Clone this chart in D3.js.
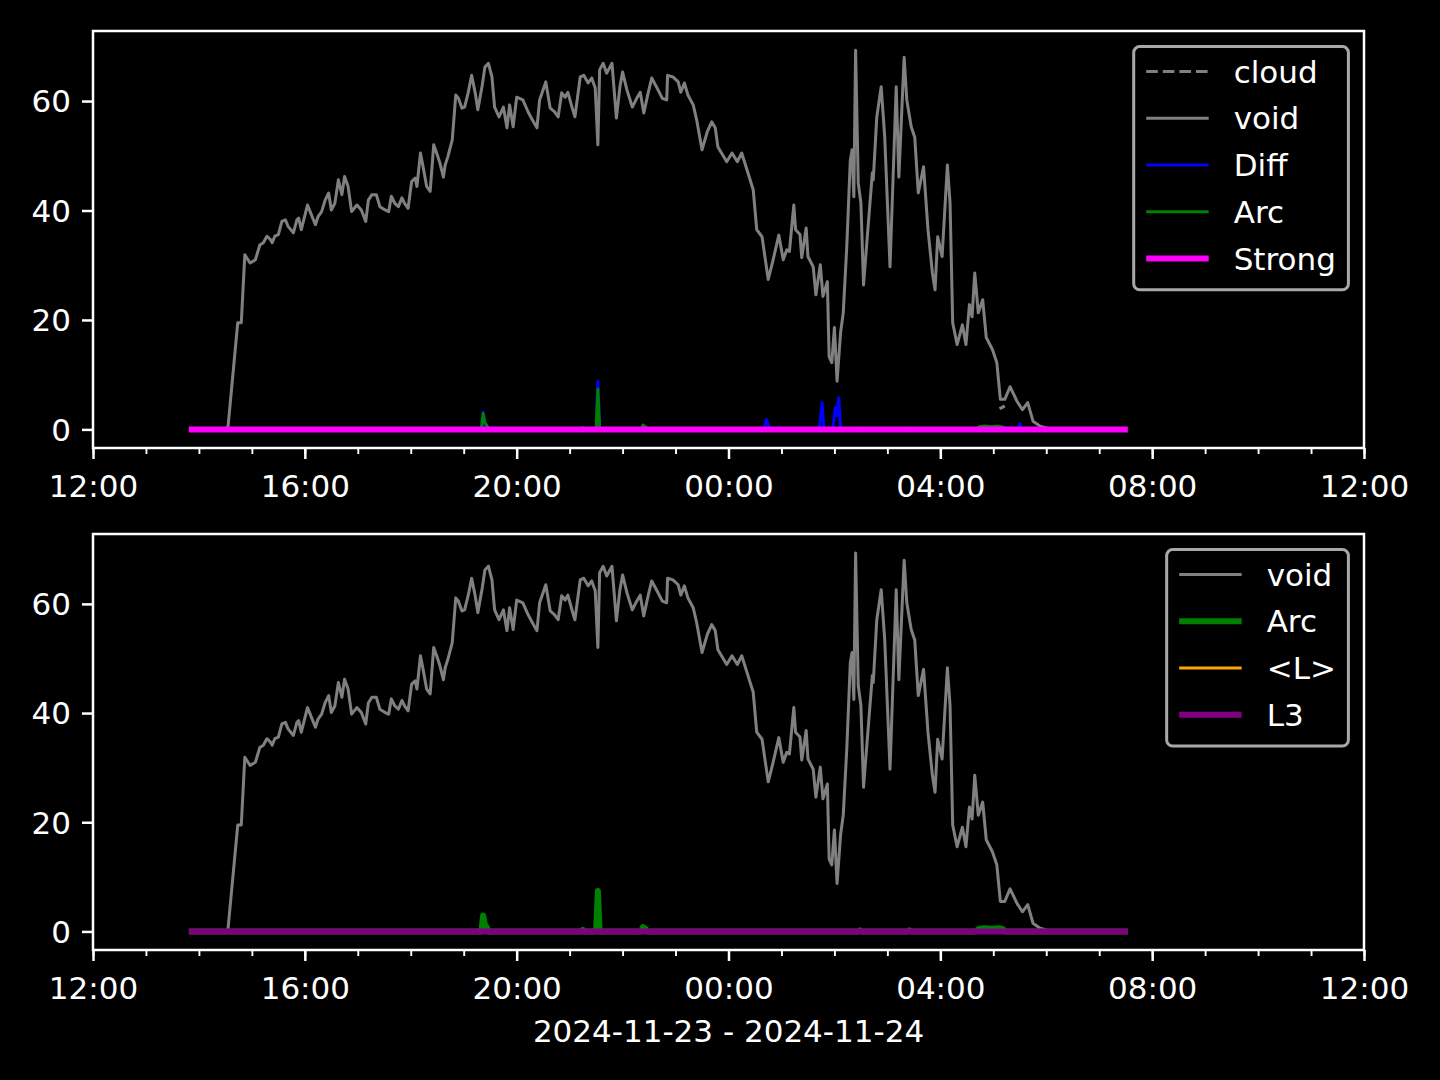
<!DOCTYPE html>
<html><head><meta charset="utf-8">
<script src="https://cdn.jsdelivr.net/npm/d3@7"></script>
<style>
html,body{margin:0;padding:0;background:#000;}
svg{display:block;}
text{font-family:"DejaVu Sans",sans-serif;}
</style></head><body>
<svg id="chart" width="1440" height="1080"></svg>
<script>
// ---------------- DATA ----------------
// [time, value]; times >= 12:00 are on 2024-11-23, earlier ones on 2024-11-24
const voidSeries = [
["13:52",0],["14:30",0],["14:33",0.5],["14:44",19.5],["14:48",19.5],["14:52",31.9],["14:58",30.4],["15:04",31.0],
["15:09",33.7],["15:13",34.1],["15:17",35.3],["15:21",34.7],["15:23",34.1],["15:26",35.3],["15:30",35.6],["15:34",38.0],
["15:38",38.3],["15:41",37.1],["15:47",35.9],["15:51",38.3],["15:53",38.6],["15:56",36.5],["16:03",41.0],["16:06",39.8],
["16:12",37.4],["16:15",38.9],["16:19",39.8],["16:23",41.9],["16:27",43.2],["16:30",40.1],["16:34",41.3],["16:38",45.6],
["16:42",42.9],["16:45",46.2],["16:49",44.4],["16:53",39.8],["16:59",41.0],["17:04",40.1],["17:09",38.0],["17:12",41.9],
["17:16",42.9],["17:21",42.9],["17:25",40.7],["17:31",40.1],["17:35",39.8],["17:38",42.6],["17:42",41.3],["17:46",40.7],
["17:50",42.3],["17:53",41.3],["17:57",40.4],["18:01",45.3],["18:05",45.9],["18:07",44.4],["18:11",50.5],["18:14",48.0],
["18:18",44.4],["18:22",43.5],["18:26",52.0],["18:30",50.2],["18:33",48.7],["18:37",46.1],["18:39",48.3],["18:42",49.8],
["18:47",52.9],["18:51",61.1],["18:54",60.5],["18:58",58.7],["19:01",58.9],["19:05",61.5],["19:09",64.7],["19:13",61.5],
["19:16",58.4],["19:21",62.9],["19:24",66.2],["19:28",66.9],["19:32",64.4],["19:35",58.9],["19:40",57.1],["19:45",58.9],
["19:49",55.1],["19:52",59.3],["19:56",55.3],["20:00",60.7],["20:07",60.2],["20:13",58.0],["20:18",56.5],["20:23",55.1],
["20:26",60.2],["20:33",63.5],["20:38",58.7],["20:43",58.0],["20:47",57.1],["20:51",61.5],["20:55",60.7],["20:58",61.6],
["21:03",58.7],["21:06",57.1],["21:12",64.4],["21:16",64.7],["21:21",63.3],["21:25",64.2],["21:29",62.4],["21:32",52.0],
["21:34",65.7],["21:38",66.9],["21:42",65.1],["21:48",66.9],["21:53",56.9],["21:57",62.6],["22:00",65.3],["22:05",62.0],
["22:11",58.9],["22:16",60.5],["22:20",61.6],["22:24",57.8],["22:29",61.5],["22:33",64.2],["22:39",62.4],["22:45",60.5],
["22:50",60.2],["22:51",64.7],["22:57",64.4],["23:03",63.5],["23:06",61.6],["23:10",63.3],["23:14",61.1],["23:20",59.3],
["23:24",56.5],["23:30",51.1],["23:36",54.4],["23:41",56.2],["23:45",55.1],["23:48",51.6],["23:58",48.9],["00:04",50.5],
["00:10",48.9],["00:15",50.5],["00:21",47.4],["00:28",43.8],["00:32",36.5],["00:38",35.2],["00:45",27.4],["00:50",30.6],
["00:57",35.5],["01:02",31.0],["01:06",32.8],["01:09",32.5],["01:14",41.0],["01:16",36.5],["01:21",35.6],["01:23",31.4],
["01:28",36.8],["01:30",31.6],["01:36",29.7],["01:39",24.6],["01:44",30.1],["01:47",24.3],["01:52",27.0],["01:54",13.3],
["01:57",12.2],["02:00",18.6],["02:03",8.8],["02:07",17.7],["02:10",21.3],["02:14",33.4],["02:18",49.2],["02:20",51.1],
["02:22",42.5],["02:24",69.3],["02:27",45.0],["02:30",41.4],["02:33",26.4],["02:37",34.7],["02:43",46.9],["02:44",45.6],
["02:48",57.1],["02:53",62.6],["02:57",53.4],["03:03",29.7],["03:10",62.6],["03:13",46.1],["03:19",68.0],["03:22",60.2],
["03:27",55.3],["03:31",53.4],["03:35",43.2],["03:41",48.0],["03:46",36.5],["03:51",28.6],["03:54",25.5],["03:57",35.2],
["04:02",31.6],["04:08",48.3],["04:11",41.4],["04:14",19.5],["04:19",15.5],["04:25",19.1],["04:29",15.5],["04:33",22.8],
["04:36",20.6],["04:39",28.6],["04:43",21.3],["04:48",23.7],["04:52",16.8],["04:59",14.6],["05:04",12.2],["05:08",5.5],
["05:13",5.5],["05:19",7.8],["05:27",5.1],["05:33",3.6],["05:39",4.9],["05:45",1.5],["05:53",0.6],["05:59",0.3],
["06:05",0],["07:29",0]
];

const cloudSeries = [["05:07",3.8],["05:10",4.0],["05:13",4.3]];

const diffSeries = [
["13:52",0],["19:20",0],["19:22",3.2],["19:24",1.0],["19:26",0],["21:30",0],["21:32",8.8],["21:34",0],
["22:21",0],["22:23",0.5],["22:26",0.3],["22:28",0],["00:40",0],["00:43",1.8],["00:45",0.8],["00:47",0],
["01:43",0],["01:46",4.9],["01:48",0],["01:58",0],["02:01",4.0],["02:03",2.5],["02:05",5.8],["02:07",0],
["04:46",0],["04:48",0.5],["04:58",0.5],["05:00",0],["05:08",0],["05:10",0.4],["05:28",0],["05:30",1.0],
["05:32",0],["07:29",0]
];

const arcSeries = [
["13:52",0],["19:20",0],["19:22",2.9],["19:24",1.2],["19:26",0.8],["19:28",0],["21:14",0],["21:15",0.3],
["21:16",0],["21:30",0],["21:32",7.4],["21:34",0],["22:21",0],["22:23",0.8],["22:26",0.5],["22:28",0],
["02:27",0],["02:29",0.2],["02:31",0],["03:23",0],["03:25",0.2],["03:27",0],["04:40",0],["04:44",0.5],
["04:50",0.6],["04:58",0.5],["05:06",0.6],["05:11",0.4],["05:13",0],["07:29",0]
];

const strongSeries = [["13:52",0],["07:29",0]];
const lMeanSeries  = [["13:52",0],["07:29",0]];
const l3Series     = [["13:52",0],["07:29",0]];

const xDomainLabels = ["2024-11-23 12:00","2024-11-24 12:00"];
const yTickValues = [0,20,40,60];
const yDomain = [-3.4, 72.8];
const xAxisLabel = "2024-11-23 - 2024-11-24";

// ---------------- HELPERS ----------------
const parseFull = d3.timeParse("%Y-%m-%d %H:%M");
function toDate(hm){
  const h = +hm.split(":")[0];
  return parseFull((h >= 12 ? "2024-11-23 " : "2024-11-24 ") + hm);
}
function series(arr){ return arr.map(d=>({t:toDate(d[0]), v:d[1]})); }

const svg = d3.select("#chart");
svg.append("rect").attr("width",1440).attr("height",1080).attr("fill","#000");

const L = 93, R = 1364;
const panels = [{top:31,bottom:448},{top:534,bottom:950}];
const FS = 31;

const x = d3.scaleTime().domain(xDomainLabels.map(parseFull)).range([L,R]);

function drawPanel(idx, lines, legendItems){
  const p = panels[idx];
  const y = d3.scaleLinear().domain(yDomain).range([p.bottom,p.top]);
  const g = svg.append("g");
  const clipId = "clip"+idx;
  svg.append("clipPath").attr("id",clipId).append("rect")
    .attr("x",L).attr("y",p.top).attr("width",R-L).attr("height",p.bottom-p.top);
  const line = d3.line().x(d=>x(d.t)).y(d=>y(d.v));
  const lg = g.append("g").attr("clip-path","url(#"+clipId+")");
  lines.forEach(s=>{
    lg.append("path").datum(s.data).attr("d",line)
      .attr("fill","none").attr("stroke",s.color).attr("stroke-width",s.w)
      .attr("stroke-linejoin","round").attr("stroke-linecap", s.dash ? "butt":"square")
      .attr("stroke-dasharray", s.dash || null);
  });
  // x axis (major)
  const xa = g.append("g").attr("transform",`translate(0,${p.bottom})`)
    .call(d3.axisBottom(x).ticks(d3.timeHour.every(4)).tickFormat(d3.timeFormat("%H:%M"))
      .tickSizeInner(11).tickSizeOuter(0).tickPadding(11));
  xa.select(".domain").remove();
  xa.selectAll(".tick line").attr("stroke","#fff").attr("stroke-width",2.5);
  xa.selectAll(".tick text").attr("fill","#fff").attr("font-size",FS).attr("y",49).attr("dy",0)
    .attr("font-family","DejaVu Sans");
  // minor ticks
  const xm = g.append("g").attr("transform",`translate(0,${p.bottom})`)
    .call(d3.axisBottom(x).ticks(d3.timeHour.every(1)).tickFormat("").tickSizeInner(6).tickSizeOuter(0));
  xm.select(".domain").remove();
  xm.selectAll(".tick line").attr("stroke","#fff").attr("stroke-width",1.9);
  // y axis
  const ya = g.append("g").attr("transform",`translate(${L},0)`)
    .call(d3.axisLeft(y).tickValues(yTickValues).tickSizeInner(11).tickSizeOuter(0).tickPadding(11));
  ya.select(".domain").remove();
  ya.selectAll(".tick line").attr("stroke","#fff").attr("stroke-width",2.5);
  ya.selectAll(".tick text").attr("fill","#fff").attr("font-size",FS).attr("dy","0.35em")
    .attr("font-family","DejaVu Sans");
  // spines
  g.append("rect").attr("x",L).attr("y",p.top).attr("width",R-L).attr("height",p.bottom-p.top)
    .attr("fill","none").attr("stroke","#fff").attr("stroke-width",2.5);

  // legend
  const leg = g.append("g");
  const pitch = 46.75, pad = 12.5, hl = 62.5, htp = 25;
  const right = R - 15.6, top = p.top + 15.6;
  const widths = [];
  const tmp = leg.append("g");
  legendItems.forEach(it=>{
    const t = tmp.append("text").attr("font-size",FS).text(it.label);
    widths.push(t.node().getComputedTextLength());
  });
  tmp.remove();
  const maxW = d3.max(widths);
  const bw = pad + hl + htp + maxW + pad;
  const bh = legendItems.length*pitch + 2*pad - 15.6;
  const left = right - bw;
  leg.append("rect").attr("x",left).attr("y",top).attr("width",bw).attr("height",bh)
    .attr("rx",6).attr("ry",6).attr("fill","#000").attr("stroke","#a8a8a8").attr("stroke-width",3);
  legendItems.forEach((it,i)=>{
    const cy = top + 25 + i*pitch;
    leg.append("line").attr("x1",left+pad).attr("x2",left+pad+hl).attr("y1",cy).attr("y2",cy)
      .attr("stroke",it.color).attr("stroke-width",it.w).attr("stroke-dasharray",it.dash||null);
    leg.append("text").attr("x",left+pad+hl+htp).attr("y",cy+11).attr("fill","#fff")
      .attr("font-size",FS).text(it.label);
  });
  return y;
}

const voidData = series(voidSeries);
const cloudData = series(cloudSeries);
const diffData = series(diffSeries);
const arcData = series(arcSeries);
const strongData = series(strongSeries);
const lMeanData = series(lMeanSeries);
const l3Data = series(l3Series);

const dashPattern = "11.6,5";
drawPanel(0,[
  {data:cloudData,color:"#808080",w:3,dash:dashPattern},
  {data:voidData,color:"#808080",w:3},
  {data:diffData,color:"#0000ff",w:3},
  {data:arcData,color:"#008000",w:3},
  {data:strongData,color:"#ff00ff",w:6}
],[
  {label:"cloud",color:"#808080",w:3,dash:dashPattern},
  {label:"void",color:"#808080",w:3},
  {label:"Diff",color:"#0000ff",w:3},
  {label:"Arc",color:"#008000",w:3},
  {label:"Strong",color:"#ff00ff",w:6}
]);
drawPanel(1,[
  {data:voidData,color:"#808080",w:3},
  {data:arcData,color:"#008000",w:6},
  {data:lMeanData,color:"#ffa500",w:3},
  {data:l3Data,color:"#800080",w:6}
],[
  {label:"void",color:"#808080",w:3},
  {label:"Arc",color:"#008000",w:6},
  {label:"<L>",color:"#ffa500",w:3},
  {label:"L3",color:"#800080",w:6}
]);

svg.append("text").attr("x",(L+R)/2).attr("y",1042).attr("text-anchor","middle")
  .attr("fill","#fff").attr("font-size",FS).attr("font-family","DejaVu Sans").text(xAxisLabel);
</script>
</body></html>
